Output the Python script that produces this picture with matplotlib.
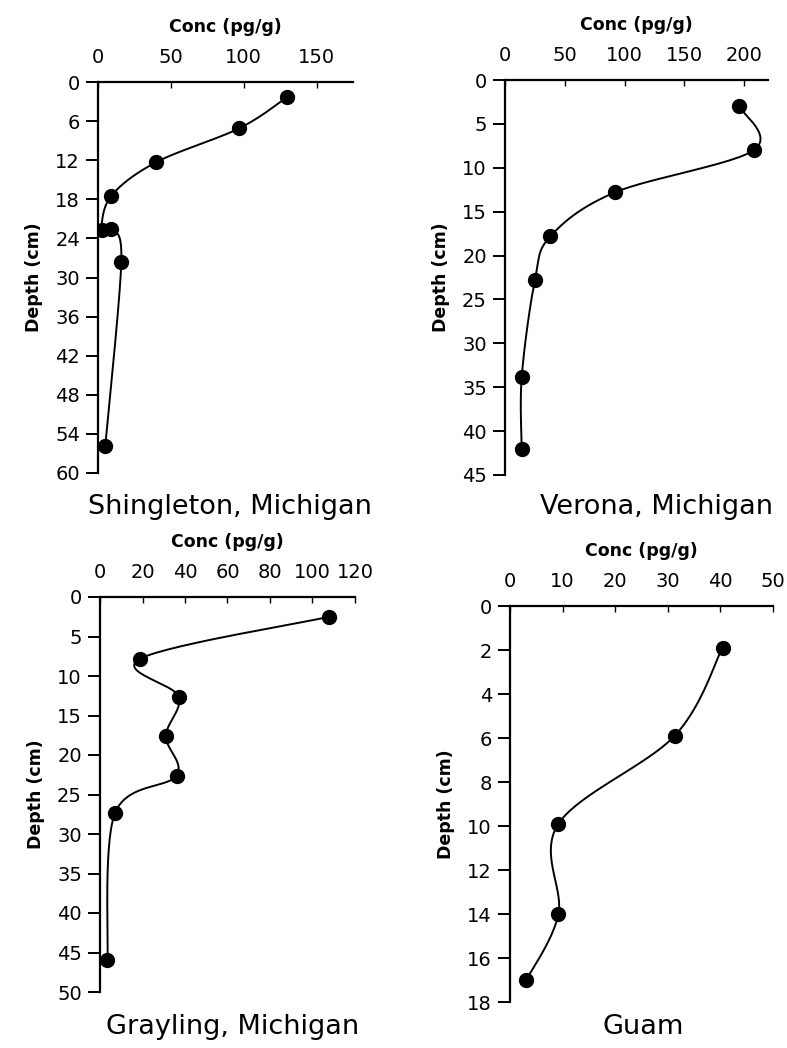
import numpy as np
from matplotlib import pyplot as plt

# Shingleton, Michigan
shing_conc = [130, 97, 40, 9, 2.5, 9, 16, 5]
shing_depth = [2.3, 7.1, 12.3, 17.5, 22.7, 22.6, 27.6, 55.8]
# Verona, Michigan
verona_conc = [196, 208, 92, 38, 25, 14, 14]
verona_depth = [3, 8, 12.8, 17.8, 22.8, 33.8, 42]
# Grayling, Michigan
grayl_conc = [108, 19, 37, 31, 36, 7, 3.5]
grayl_depth = [2.5, 7.8, 12.6, 17.6, 22.6, 27.4, 45.9]
# Guam
guam_conc = [40.4, 31.3, 9.2, 9.2, 3.1]
guam_depth = [1.9, 5.9, 9.9, 14, 17]

W, H = 787, 1048


def smooth(x, y, xr, yr, n=30):
    # Catmull-Rom through the points, done in axis-normalised units
    p = np.c_[np.asarray(x) / xr, np.asarray(y) / yr]
    p = np.vstack([p[0], p, p[-1]])
    out = []
    for i in range(1, len(p) - 2):
        p0, p1, p2, p3 = p[i - 1], p[i], p[i + 1], p[i + 2]
        t = np.linspace(0, 1, n)[:, None]
        seg = 0.5 * ((2 * p1) + (-p0 + p2) * t + (2 * p0 - 5 * p1 + 4 * p2 - p3) * t ** 2
                     + (-p0 + 3 * p1 - 3 * p2 + p3) * t ** 3)
        out.append(seg)
    out = np.vstack(out)
    return out[:, 0] * xr, out[:, 1] * yr


def box(l, t, r, b):
    return [l / W, 1 - b / H, (r - l) / W, (b - t) / H]


fig = plt.figure(figsize=(W / 100, H / 100), dpi=100)

panels = [
    (shing_conc, shing_depth, box(98, 82, 353, 473), (0, 175), [0, 50, 100, 150],
     (0, 60), np.arange(0, 61, 6), "Shingleton, Michigan", (230, 507)),
    (verona_conc, verona_depth, box(505, 80, 768, 475), (0, 220), [0, 50, 100, 150, 200],
     (0, 45), np.arange(0, 46, 5), "Verona, Michigan", (657, 507)),
    (grayl_conc, grayl_depth, box(100, 597, 355, 992), (0, 120), np.arange(0, 121, 20),
     (0, 50), np.arange(0, 51, 5), "Grayling, Michigan", (233, 1027)),
    (guam_conc, guam_depth, box(510, 606, 773, 1002), (0, 50), np.arange(0, 51, 10),
     (0, 18), np.arange(0, 19, 2), "Guam", (643, 1027)),
]

for conc, depth, pos, xl, xt, yl, yt, name, npos in panels:
    ax = fig.add_axes(pos)
    sx, sy = smooth(conc, depth, xl[1], yl[1])
    ax.plot(sx, sy, color='black', lw=1.4)
    ax.plot(conc, depth, 'o', color='black', ms=10)
    ax.set_xlim(*xl)
    ax.set_ylim(yl[1], yl[0])
    ax.set_xticks(xt)
    ax.set_yticks(yt)
    ax.xaxis.tick_top()
    ax.xaxis.set_label_position('top')
    ax.spines['right'].set_visible(False)
    ax.spines['bottom'].set_visible(False)
    for s in ('left', 'top'):
        ax.spines[s].set_linewidth(1.6)
    ax.tick_params(axis='x', direction='in', length=4, width=1, labelsize=14, pad=11)
    ax.tick_params(axis='y', direction='out', length=9, width=1.4, labelsize=14, pad=4)
    ax.set_xlabel('Conc (pg/g)', fontsize=12.5, fontweight='bold', labelpad=11)
    ax.set_ylabel('Depth (cm)', fontsize=12.5, fontweight='bold', labelpad=9)
    fig.text(npos[0] / W, 1 - npos[1] / H, name, fontsize=19.5, ha='center', va='center')

plt.savefig('out.png', dpi=100)
